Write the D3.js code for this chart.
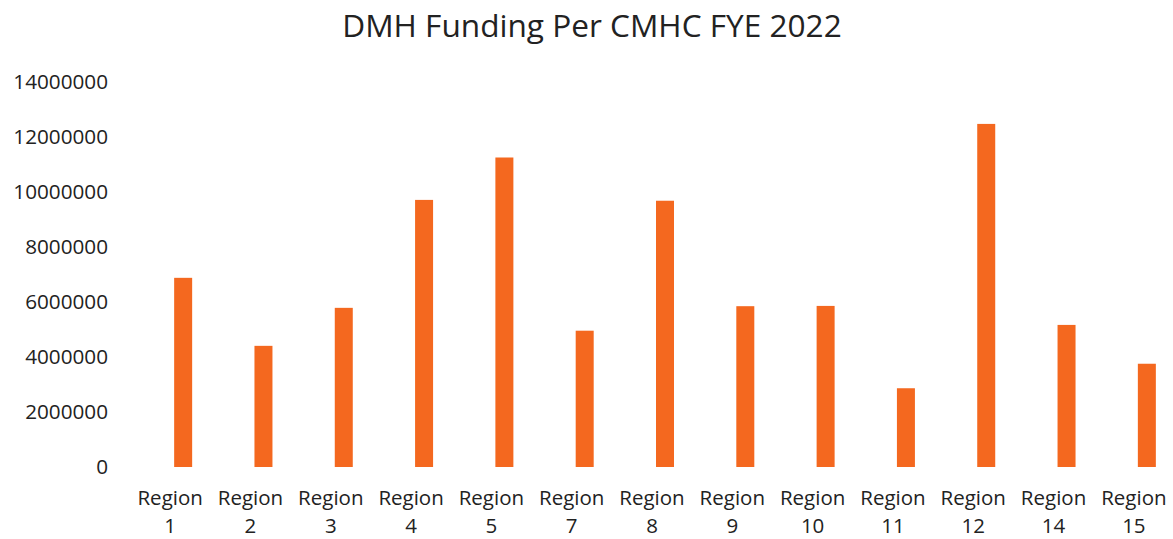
<!DOCTYPE html>
<html>
<head>
<meta charset="utf-8">
<script src="https://cdn.jsdelivr.net/npm/d3@7"></script>
<style>
  body { margin: 0; background: #fff; }
  text { font-family: "Open Sans", sans-serif; fill: #222; }
</style>
</head>
<body>
<div id="chart"></div>
<script>
// Data
const regions = ["1", "2", "3", "4", "5", "7", "8", "9", "10", "11", "12", "14", "15"];
const funding = [6870000, 4400000, 5780000, 9700000, 11240000, 4950000, 9670000,
                 5840000, 5850000, 2860000, 12460000, 5160000, 3750000];
const yTicks = [0, 2000000, 4000000, 6000000, 8000000, 10000000, 12000000, 14000000];

const width = 1173;
const height = 539;

const svg = d3.select("#chart")
  .append("svg")
  .attr("width", width)
  .attr("height", height);

// scales
const xScale = d3.scaleBand()
  .domain(regions)
  .range([143, 1187]);

const yScale = d3.scaleLinear()
  .domain([0, 14000000])
  .range([467, 81.5]);

const barWidth = 18;

// title
svg.append("text")
  .attr("x", 592)
  .attr("y", 37)
  .style("text-anchor", "middle")
  .style("font-size", "31.6px")
  .text("DMH Funding Per CMHC FYE 2022");

// y axis (labels only, no line)
const yAxis = svg.append("g")
  .attr("transform", "translate(108, 0)")
  .call(d3.axisLeft(yScale).tickValues(yTicks).tickSize(0).tickPadding(0).tickFormat(d3.format("d")));
yAxis.select(".domain").remove();
yAxis.selectAll("text")
  .style("font-size", "20.7px")
  .style("font-family", "'Open Sans', sans-serif")
  .attr("fill", "#222");

// x axis labels, two lines
const xAxis = svg.append("g")
  .attr("transform", "translate(0, 478)")
  .call(d3.axisBottom(xScale).tickSize(0).tickFormat(""));
xAxis.select(".domain").remove();
xAxis.selectAll(".tick").each(function (d) {
  const t = d3.select(this).append("text")
    .attr("fill", "#222")
    .style("text-anchor", "middle")
    .style("font-size", "20.5px")
    .attr("x", -13);
  t.append("tspan").attr("x", -13).attr("y", 27).text("Region");
  t.append("tspan").attr("x", -13).attr("y", 55).text(d);
});

// bars
svg.selectAll(".bar")
  .data(regions.map((r, i) => ({ region: r, value: funding[i] })))
  .join("rect")
  .attr("class", "bar")
  .attr("x", d => xScale(d.region) + (xScale.bandwidth() - barWidth) / 2)
  .attr("y", d => yScale(d.value))
  .attr("width", barWidth)
  .attr("height", d => yScale(0) - yScale(d.value))
  .style("fill", "#f4681f");
</script>
</body>
</html>
